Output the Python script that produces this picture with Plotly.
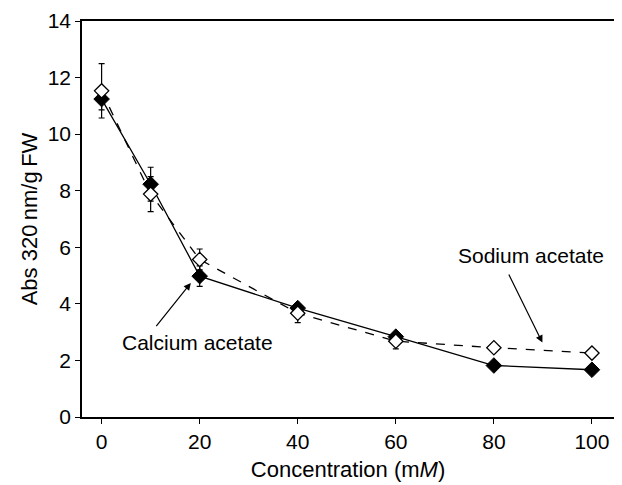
import plotly.graph_objects as go

conc = [0, 10, 20, 40, 60, 80, 100]

calcium = [11.24, 8.23, 4.98, 3.85, 2.84, 1.82, 1.67]
calcium_err = [0.38, 0.6, 0.36, 0.1, 0.1, 0.12, 0.06]

sodium = [11.53, 7.88, 5.57, 3.67, 2.68, 2.45, 2.26]
sodium_err = [0.96, 0.62, 0.37, 0.33, 0.27, 0.0, 0.0]

font = "Liberation Sans, Arial, sans-serif"

fig = go.Figure()

fig.add_trace(go.Scatter(
    x=conc, y=calcium, mode="lines+markers", name="Calcium acetate",
    line=dict(color="black", width=1.3),
    marker=dict(symbol="diamond", size=12, color="black",
                line=dict(color="black", width=1)),
    error_y=dict(type="data", array=calcium_err, color="black",
                 thickness=1.2, width=3),
))
fig.add_trace(go.Scatter(
    x=conc, y=sodium, mode="lines+markers", name="Sodium acetate",
    line=dict(color="black", width=1.3, dash="dash"),
    marker=dict(symbol="diamond", size=11, color="white",
                line=dict(color="black", width=1.3)),
    error_y=dict(type="data", array=sodium_err, color="black",
                 thickness=1.2, width=3),
))

# labels with arrows
fig.add_annotation(x=18.2, y=4.74, ax=10.9, ay=3.16, xref="x", yref="y",
                   axref="x", ayref="y", text="", showarrow=True,
                   arrowhead=2, arrowsize=1.2, arrowwidth=1.2, arrowcolor="black")
fig.add_annotation(x=19.5, y=2.65, text="Calcium acetate", showarrow=False,
                   font=dict(size=21, color="black", family=font))
fig.add_annotation(x=89.9, y=2.63, ax=82.9, ay=5.09, xref="x", yref="y",
                   axref="x", ayref="y", text="", showarrow=True,
                   arrowhead=2, arrowsize=1.2, arrowwidth=1.2, arrowcolor="black")
fig.add_annotation(x=87.5, y=5.7, text="Sodium acetate", showarrow=False,
                   font=dict(size=21, color="black", family=font))

# page body has an 8px margin, so the figure is a bit smaller and shifted
fig.update_layout(
    width=614, height=477,
    paper_bgcolor="white", plot_bgcolor="white",
    margin=dict(l=74, r=8, t=13, b=68),
    showlegend=False,
    font=dict(family=font, size=21, color="black"),
    xaxis=dict(
        range=[-4, 104.5], tickvals=[0, 20, 40, 60, 80, 100],
        ticks="outside", ticklen=5, tickwidth=1, tickcolor="black",
        showline=True, linecolor="black", linewidth=1.5, mirror=True,
        showgrid=False, zeroline=False, automargin=False,
        tickfont=dict(size=21), ticklabeloverflow="allow",
        title=dict(text="Concentration (m<i>M</i>)", standoff=10,
                   font=dict(size=22)),
    ),
    yaxis=dict(
        range=[0, 14], tickvals=[0, 2, 4, 6, 8, 10, 12, 14],
        ticks="outside", ticklen=5, tickwidth=1, tickcolor="black",
        showline=True, linecolor="black", linewidth=1.5, mirror="ticks",
        showgrid=False, zeroline=False, automargin=False,
        tickfont=dict(size=21), ticklabeloverflow="allow",
        title=dict(text="Abs 320\u2009nm/g\u2009FW", standoff=4,
                   font=dict(size=22)),
    ),
)

fig.write_html("out.html")
